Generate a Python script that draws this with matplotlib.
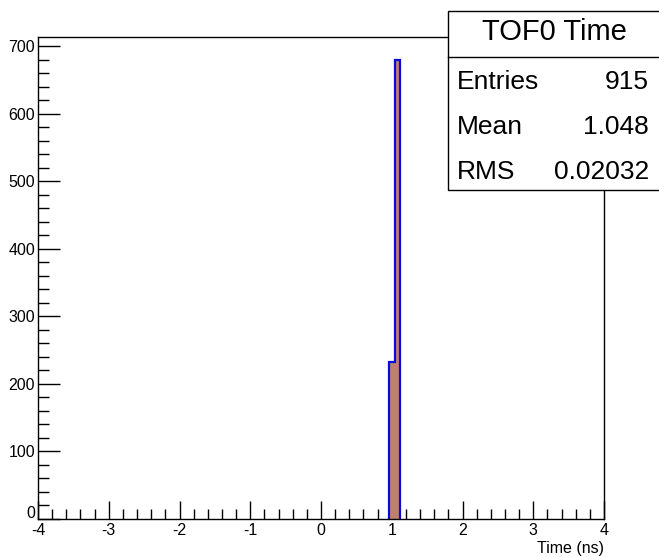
import matplotlib
matplotlib.use("Agg")
import matplotlib.pyplot as plt
from matplotlib.patches import Rectangle
from matplotlib.ticker import MultipleLocator
from matplotlib.transforms import ScaledTranslation
import numpy as np

# histogram content (100 bins from -4 to 4 ns, only two bins filled)
x_min, x_max, n_bins = -4.0, 4.0, 100
filled_bin_low = [0.96, 1.04]
filled_counts = [233, 680]

stats_title = "TOF0 Time"
stats_names = ["Entries", "Mean", "RMS"]
stats_values = ["915", "1.048", "0.02032"]

x_label = "Time (ns)"

plt.rcParams["font.family"] = ["Liberation Sans", "DejaVu Sans"]
plt.rcParams["axes.unicode_minus"] = False

W, H = 659, 557

edges = np.linspace(x_min, x_max, n_bins + 1)
counts = np.zeros(n_bins)
for lo, c in zip(filled_bin_low, filled_counts):
    counts[int(round((lo - x_min) / 0.08))] = c
nz = np.nonzero(counts)[0]
i0, i1 = nz.min(), nz.max() + 1

fig = plt.figure(figsize=(W / 100, H / 100), dpi=100)
ax = fig.add_axes([38 / W, 1 - 519 / H, (604 - 38) / W, (519 - 37) / H])

# filled bars, outline only over the occupied bins
ax.stairs(counts[i0:i1], edges[i0:i1 + 1], fill=True, color="#bf8070", zorder=2)
ax.stairs(counts[i0:i1], edges[i0:i1 + 1], baseline=0, color="#0a0adc", linewidth=1.6, zorder=3)

ax.set_xlim(x_min, x_max)
ax.set_ylim(0, max(filled_counts) * 1.05)

ax.xaxis.set_major_locator(MultipleLocator(1))
ax.xaxis.set_minor_locator(MultipleLocator(0.2))
ax.yaxis.set_major_locator(MultipleLocator(100))
ax.yaxis.set_minor_locator(MultipleLocator(20))
ax.xaxis.set_major_formatter(lambda v, pos: f"{int(round(v))}")
ax.tick_params(which="both", direction="in", top=False, right=False, colors="black", width=1)
ax.tick_params(axis="x", which="major", length=13, pad=3, labelsize=11.5)
ax.tick_params(axis="x", which="minor", length=7)
ax.tick_params(axis="y", which="major", length=16, pad=2, labelsize=11.5)
ax.tick_params(axis="y", which="minor", length=8)
for sp in ax.spines.values():
    sp.set_linewidth(1)
    sp.set_zorder(4)

# lift the y "0" label a bit so it clears the x "-4" label (as ROOT does)
fig.canvas.draw()
for lab in ax.get_yticklabels():
    if lab.get_text() == "0":
        lab.set_transform(lab.get_transform() + ScaledTranslation(0, 5 / 72, fig.dpi_scale_trans))

fig.text(604 / W, 1 - 553 / H, x_label, ha="right", va="baseline", fontsize=11.5)

# stats box
bx0, by0, bx1, by1 = 448, 11, 662, 190
fig.patches.append(Rectangle((bx0 / W, 1 - by1 / H), (bx1 - bx0) / W, (by1 - by0) / H,
                             transform=fig.transFigure, facecolor="white",
                             edgecolor="black", linewidth=1, zorder=5))
fig.lines.append(plt.Line2D([bx0 / W, 1], [1 - 57 / H] * 2, transform=fig.transFigure,
                            color="black", linewidth=1, zorder=6))
fig.text(554 / W, 1 - 40 / H, stats_title, ha="center", va="baseline",
         fontsize=21, zorder=7)
row_y = [89, 134, 179]
for y, name, val in zip(row_y, stats_names, stats_values):
    fig.text(457 / W, 1 - y / H, name, ha="left", va="baseline", fontsize=19, zorder=7)
    fig.text(649 / W, 1 - y / H, val, ha="right", va="baseline", fontsize=19, zorder=7)

fig.savefig("out.png", dpi=100)
